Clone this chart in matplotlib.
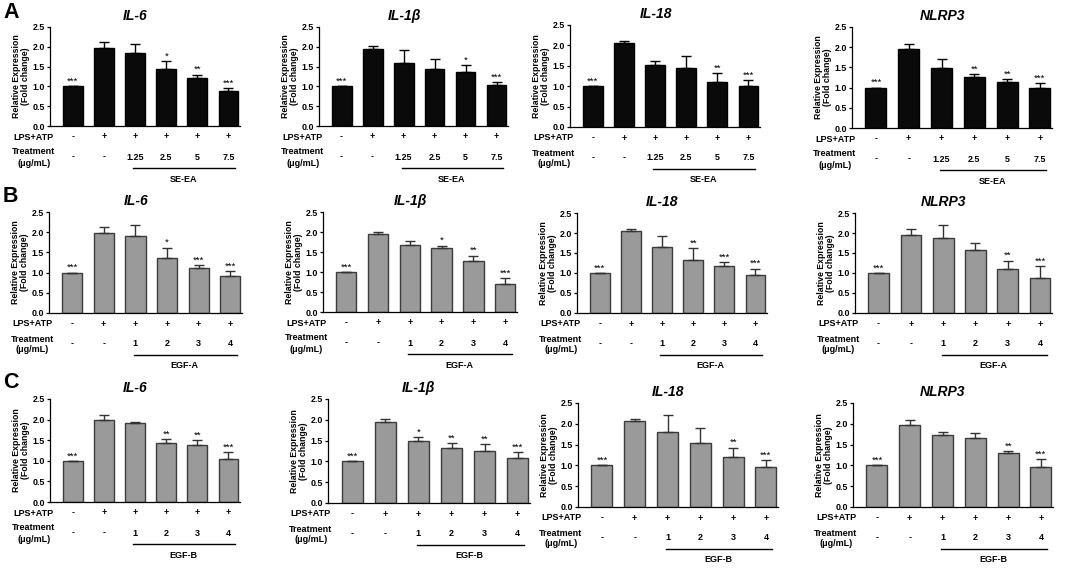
import matplotlib
matplotlib.use('Agg')
import matplotlib.pyplot as plt
from matplotlib.transforms import blended_transform_factory, offset_copy

plt.rcParams['font.family'] = ['Liberation Sans', 'DejaVu Sans']
plt.rcParams['font.weight'] = 'bold'

# ---------------- data ----------------
genes = ['IL-6', 'IL-1β', 'IL-18', 'NLRP3']
panel_letters = ['A', 'B', 'C']
group_names = ['SE-EA', 'EGF-A', 'EGF-B']
lps_atp = ['-', '+', '+', '+', '+', '+']
doses_A = ['-', '-', '1.25', '2.5', '5', '7.5']
doses_B = ['-', '-', '1', '2', '3', '4']
doses_C = ['-', '-', '1', '2', '3', '4']

# Row A (SE-EA)
A_IL6 = [1.00, 1.98, 1.85, 1.43, 1.20, 0.88]
A_IL6_err = [0.00, 0.14, 0.22, 0.21, 0.10, 0.07]
A_IL6_sig = ['***', '', '', '*', '**', '***']
A_IL1b = [1.00, 1.95, 1.60, 1.44, 1.36, 1.04]
A_IL1b_err = [0.00, 0.06, 0.33, 0.25, 0.18, 0.07]
A_IL1b_sig = ['***', '', '', '', '*', '***']
A_IL18 = [1.00, 2.06, 1.53, 1.45, 1.10, 1.00]
A_IL18_err = [0.00, 0.05, 0.08, 0.28, 0.23, 0.16]
A_IL18_sig = ['***', '', '', '', '**', '***']
A_NLRP3 = [1.00, 1.95, 1.49, 1.27, 1.14, 1.00]
A_NLRP3_err = [0.00, 0.13, 0.21, 0.07, 0.07, 0.12]
A_NLRP3_sig = ['***', '', '', '**', '**', '***']

# Row B (EGF-A)
B_IL6 = [1.00, 1.98, 1.91, 1.37, 1.12, 0.92]
B_IL6_err = [0.00, 0.14, 0.27, 0.25, 0.06, 0.12]
B_IL6_sig = ['***', '', '', '*', '***', '***']
B_IL1b = [1.00, 1.94, 1.68, 1.59, 1.28, 0.70]
B_IL1b_err = [0.00, 0.07, 0.10, 0.07, 0.13, 0.14]
B_IL1b_sig = ['***', '', '', '*', '**', '***']
B_IL18 = [1.00, 2.06, 1.65, 1.33, 1.18, 0.96]
B_IL18_err = [0.00, 0.05, 0.28, 0.30, 0.09, 0.15]
B_IL18_sig = ['***', '', '', '**', '***', '***']
B_NLRP3 = [1.00, 1.96, 1.88, 1.58, 1.09, 0.87]
B_NLRP3_err = [0.00, 0.13, 0.32, 0.16, 0.22, 0.30]
B_NLRP3_sig = ['***', '', '', '', '**', '***']

# Row C (EGF-B)
C_IL6 = [1.00, 1.98, 1.91, 1.44, 1.38, 1.05]
C_IL6_err = [0.00, 0.14, 0.03, 0.08, 0.12, 0.17]
C_IL6_sig = ['***', '', '', '**', '**', '***']
C_IL1b = [1.00, 1.94, 1.50, 1.33, 1.26, 1.08]
C_IL1b_err = [0.00, 0.07, 0.08, 0.11, 0.15, 0.14]
C_IL1b_sig = ['***', '', '*', '**', '**', '***']
C_IL18 = [1.00, 2.07, 1.80, 1.53, 1.21, 0.95]
C_IL18_err = [0.00, 0.04, 0.40, 0.38, 0.22, 0.18]
C_IL18_sig = ['***', '', '', '', '**', '***']
C_NLRP3 = [1.00, 1.96, 1.72, 1.67, 1.30, 0.97]
C_NLRP3_err = [0.00, 0.12, 0.08, 0.12, 0.05, 0.18]
C_NLRP3_sig = ['***', '', '', '', '**', '***']

yticks = [0.0, 0.5, 1.0, 1.5, 2.0, 2.5]

rows = [
    [(A_IL6, A_IL6_err, A_IL6_sig), (A_IL1b, A_IL1b_err, A_IL1b_sig),
     (A_IL18, A_IL18_err, A_IL18_sig), (A_NLRP3, A_NLRP3_err, A_NLRP3_sig)],
    [(B_IL6, B_IL6_err, B_IL6_sig), (B_IL1b, B_IL1b_err, B_IL1b_sig),
     (B_IL18, B_IL18_err, B_IL18_sig), (B_NLRP3, B_NLRP3_err, B_NLRP3_sig)],
    [(C_IL6, C_IL6_err, C_IL6_sig), (C_IL1b, C_IL1b_err, C_IL1b_sig),
     (C_IL18, C_IL18_err, C_IL18_sig), (C_NLRP3, C_NLRP3_err, C_NLRP3_sig)],
]
row_doses = [doses_A, doses_B, doses_C]

# ---------------- layout (pixels: left, top, right, bottom) ----------------
W, H = 1065, 570
rects = [
    [(50, 27, 240, 126), (319, 27, 508, 126), (570, 25, 760, 127), (852, 27, 1052, 128)],
    [(49, 212, 242, 313), (323, 212, 517, 312), (577, 213, 767, 313), (855, 213, 1052, 313)],
    [(50, 399, 240, 502), (328, 399, 530, 503), (578, 403, 778, 507), (853, 403, 1053, 507)],
]
bar_face = ['#0a0a0a', '#9a9a9a', '#9a9a9a']
bar_edge = ['#000000', '#3c3c3c', '#3c3c3c']
panel_y = [13, 197, 383]

fig = plt.figure(figsize=(W / 100, H / 100), dpi=100)
PX = 0.72  # points per pixel at 100 dpi

for r in range(3):
    fig.text(3 / W, 1 - panel_y[r] / H, panel_letters[r], fontsize=15.5,
             fontweight='bold', ha='left', va='center')
    for c in range(4):
        l, t, rr, b = rects[r][c]
        ax = fig.add_axes([l / W, 1 - b / H, (rr - l) / W, (b - t) / H])
        vals, errs, sigs = rows[r][c]
        x = list(range(len(vals)))
        ax.bar(x, vals, width=0.64, color=bar_face[r], edgecolor=bar_edge[r],
               linewidth=1.0, zorder=2)
        ax.errorbar(x, vals, yerr=[[0] * len(errs), errs], fmt='none',
                    ecolor='black' if r == 0 else '#333333', elinewidth=1.0,
                    capsize=3.4, capthick=1.0, zorder=3)
        for i in x:
            if sigs[i]:
                ax.annotate(sigs[i], xy=(i, vals[i] + errs[i]), xytext=(0, 0.3),
                            textcoords='offset points', ha='center', va='bottom',
                            fontsize=6.8, fontweight='normal')
        ax.set_xlim(-0.73, 5.37)
        ax.set_ylim(0, 2.5)
        ax.set_yticks(yticks)
        ax.set_yticklabels([f'{v:.1f}' for v in yticks])
        ax.set_xticks([])
        for s in ['top', 'right']:
            ax.spines[s].set_visible(False)
        for s in ['left', 'bottom']:
            ax.spines[s].set_linewidth(0.9)
        ax.tick_params(axis='y', direction='out', length=2.5, width=0.9,
                       labelsize=6.4, pad=1)
        for lab in ax.get_yticklabels():
            lab.set_fontweight('bold')
        ax.set_ylabel('Relative Expression\n(Fold change)', fontsize=6.3,
                      fontweight='bold', labelpad=2, linespacing=1.0)
        ax.text(0.45, 1.0, genes[c], transform=offset_copy(ax.transAxes, fig=fig,
                y=11 * PX, units='points'), ha='center', va='center',
                fontsize=10, fontweight='bold', style='italic')

        # annotation rows under the axis
        blend = blended_transform_factory(ax.transData, ax.transAxes)

        def below(xv, dy, s, ha='center', fs=6.5):
            ax.text(xv, 0, s, transform=offset_copy(blend, fig=fig, y=-dy * PX,
                    units='points'), ha=ha, va='center', fontsize=fs,
                    fontweight='bold', clip_on=False)

        below(-1.25, 11, 'LPS+ATP')
        below(-1.25, 26, 'Treatment')
        below(-1.25, 37, '(μg/mL)')
        for i in x:
            below(i, 11, lps_atp[i])
            below(i, 31, row_doses[r][i])
        ax.plot([1.95, 5.2], [0, 0], color='black', lw=1.0, clip_on=False,
                transform=offset_copy(blend, fig=fig, y=-42 * PX, units='points'))
        below(3.55, 53, group_names[r])

fig.savefig('out.png', dpi=100)
